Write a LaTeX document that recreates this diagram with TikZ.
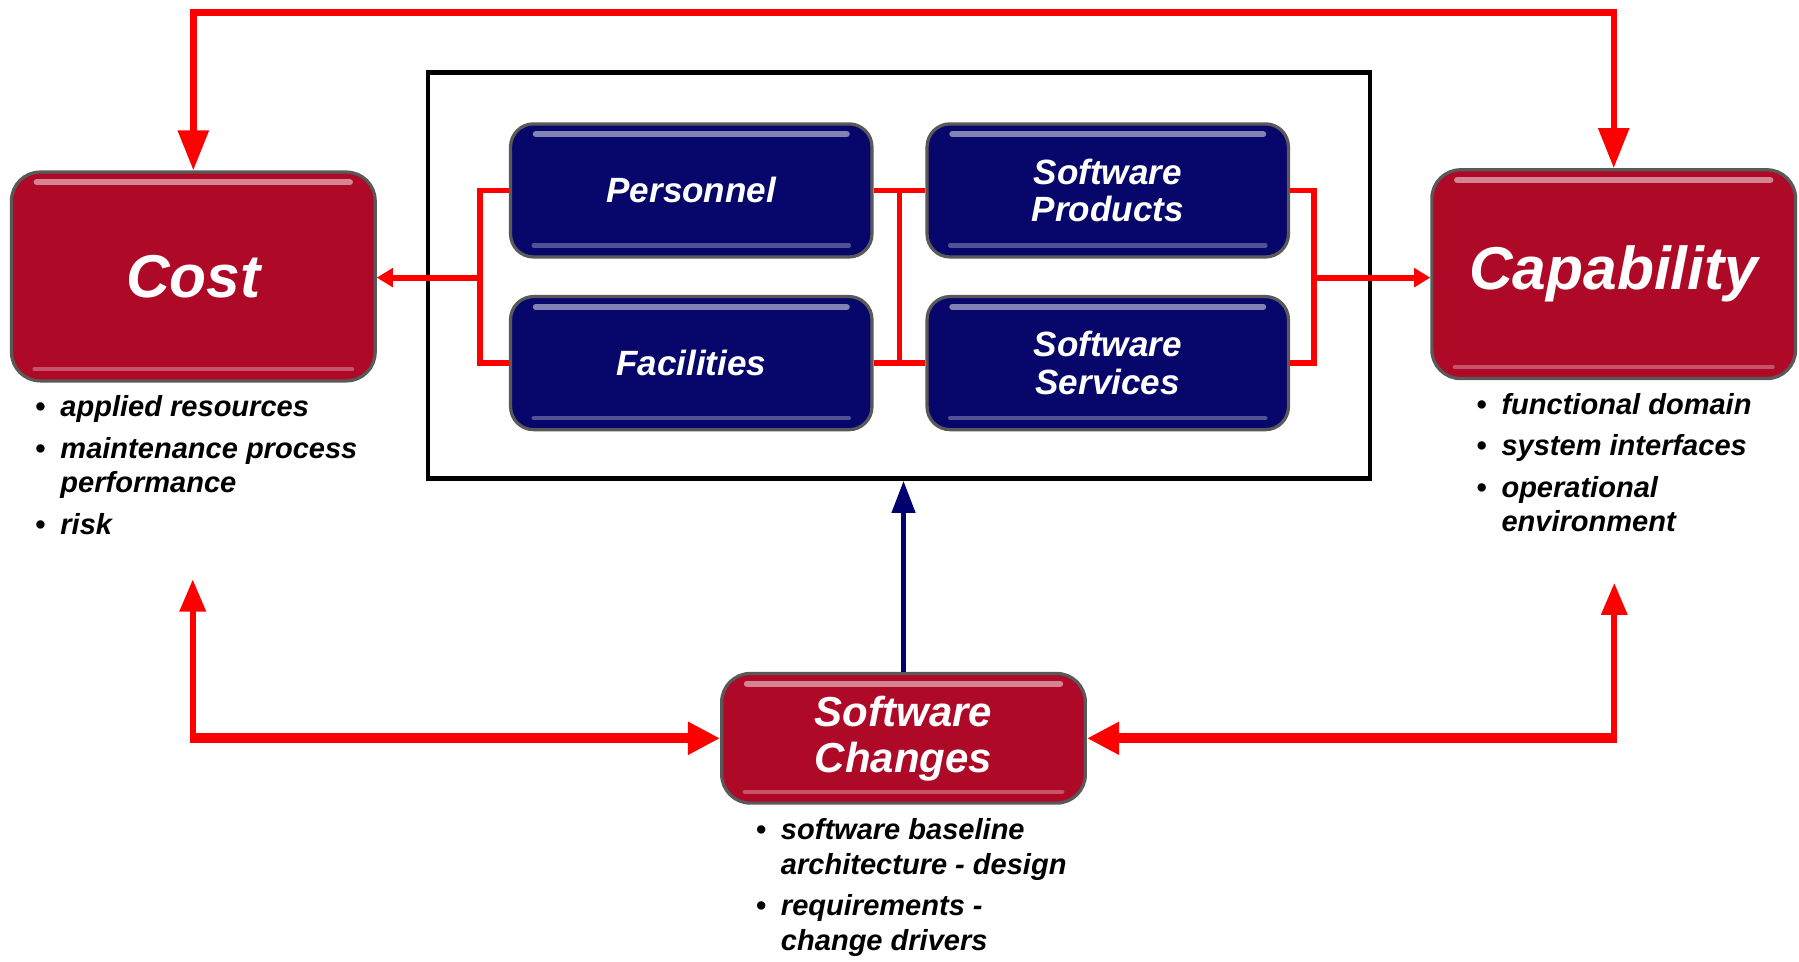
\documentclass[tikz,border=0pt]{standalone}
\usepackage{fontspec}
\setmainfont{Liberation Sans}
\usepackage{xcolor}
\usetikzlibrary{arrows.meta}
\definecolor{boxred}{RGB}{174,10,40}
\definecolor{boxnavy}{RGB}{6,6,107}
\definecolor{arrnavy}{RGB}{0,0,110}
\tikzset{
  gloss/.style={path picture={
    \draw[white, opacity=.5, line width=1.5pt, line cap=round] ([shift={(0.22cm,-0.09cm)}]path picture bounding box.north west) -- ([shift={(-0.22cm,-0.09cm)}]path picture bounding box.north east);
    \draw[white, opacity=.3, line width=1pt, line cap=round] ([shift={(0.2cm,0.1cm)}]path picture bounding box.south west) -- ([shift={(-0.2cm,0.1cm)}]path picture bounding box.south east);}},
  bigbox/.style={draw=black!65, line width=0.8pt, fill=boxred, rounded corners=0.25cm, gloss, text=white, font=\bfseries\itshape\fontsize{15}{16}\selectfont, minimum width=3.17cm, minimum height=1.82cm},
  smallbox/.style={draw=black!65, line width=0.8pt, fill=boxnavy, rounded corners=0.2cm, gloss, text=white, align=center, font=\bfseries\itshape\fontsize{8.7}{9.4}\selectfont, minimum width=3.15cm, minimum height=1.16cm},
  redline/.style={red, line width=1.45pt},
  fatline/.style={red, line width=2.5pt},
  bullets/.style={anchor=base west, inner sep=0pt, font=\bfseries\itshape\fontsize{7.2}{8.5}\selectfont}
}
\newcommand{\bl}{\textbullet}
\begin{document}
\begin{tikzpicture}
\useasboundingbox (0,0) rectangle (15.68,8.38);
\node (Box) at (7.835,5.98) [draw, line width=1.2pt, minimum width=8.21cm, minimum height=3.54cm] {};
\node (Cost) at (1.685,5.97) [bigbox] {Cost};
\node (Cap) at (14.065,5.99) [bigbox] {Capability};
\node (Pers) at (6.025,6.72) [smallbox] {Personnel};
\node (Fac) at (6.025,5.215) [smallbox] {Facilities};
\node (Prod) at (9.655,6.72) [smallbox] {Software\\Products};
\node (Serv) at (9.655,5.215) [smallbox] {Software\\Services};
\node (Chg) at (7.875,1.945) [bigbox, minimum height=1.13cm, align=center, font=\bfseries\itshape\fontsize{10.4}{11.4}\selectfont] {Software\\Changes};
\coordinate (Top) at (7.8,8.27);
\coordinate (JL) at (4.18,5.96);
\coordinate (JM) at (7.84,5.96);
\coordinate (JR) at (11.45,5.96);
\coordinate (CL) at (1.68,3.33);
\coordinate (CR) at (14.07,3.30);
\draw[redline, line width=1.6pt, {Triangle[length=0.35cm,width=0.26cm]}-{Triangle[length=0.35cm,width=0.26cm]}] (Cost.north) |- (Top) -| (Cap.north);
\draw[redline] (Pers.west) -| (JL) |- (Fac.west);
\draw[redline, -{Triangle[length=0.14cm,width=0.16cm]}] (JL) -- (JL -| Cost.east);
\draw[redline] (Pers.east) -- (Prod.west);
\draw[redline] (Fac.east) -- (Serv.west);
\draw[redline] (Pers.east -| JM) -- (Fac.east -| JM);
\draw[redline] (Prod.east) -| (JR) |- (Serv.east);
\draw[redline, -{Triangle[length=0.14cm,width=0.16cm]}] (JR) -- (JR -| Cap.west);
\draw[arrnavy, line width=1.2pt, -{Triangle[length=0.28cm,width=0.2cm]}] (Chg.north) -- (Chg.north |- Box.south);
\draw[redline, -{Triangle[length=0.28cm,width=0.22cm]}] (CL |- Chg.west) -- (CL);
\draw[fatline, -{Triangle[length=0.28cm,width=0.27cm]}] ([xshift=-0.7pt]CL |- Chg.west) -- (Chg.west);
\draw[redline, -{Triangle[length=0.28cm,width=0.22cm]}] (CR |- Chg.east) -- (CR);
\draw[fatline, -{Triangle[length=0.28cm,width=0.27cm]}] ([xshift=0.7pt]CR |- Chg.east) -- (Chg.east);
\node (CostL) at (0.30,4.75) [bullets] {\begin{tabular}[t]{@{}p{0.22cm}@{}l@{}}
\bl & applied resources\\[0.065cm]
\bl & maintenance process\\
 & performance\\[0.065cm]
\bl & risk
\end{tabular}};
\node (CapL) at (12.86,4.77) [bullets] {\begin{tabular}[t]{@{}p{0.22cm}@{}l@{}}
\bl & functional domain\\[0.065cm]
\bl & system interfaces\\[0.065cm]
\bl & operational\\
 & environment
\end{tabular}};
\node (ChgL) at (6.58,1.06) [bullets] {\begin{tabular}[t]{@{}p{0.22cm}@{}l@{}}
\bl & software baseline\\
 & architecture - design\\[0.065cm]
\bl & requirements -\\
 & change drivers
\end{tabular}};
\end{tikzpicture}
\end{document}
